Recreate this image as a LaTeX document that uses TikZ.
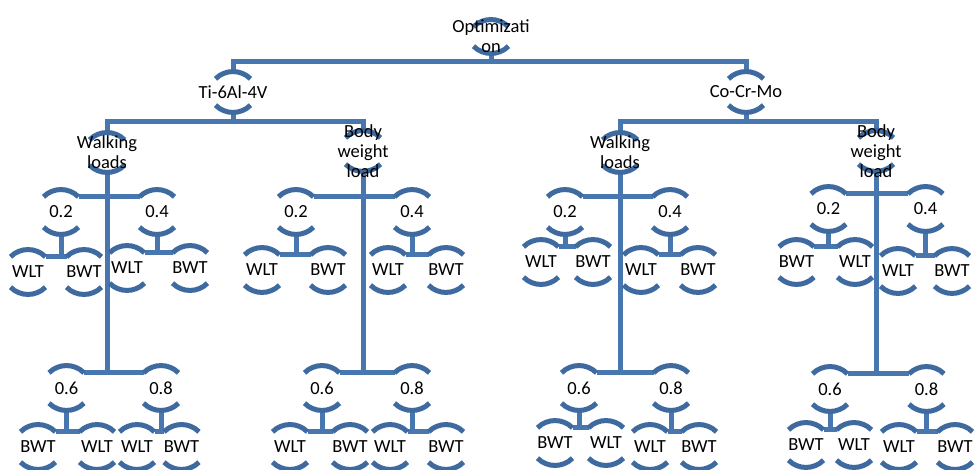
\documentclass[tikz,border=0pt]{standalone}
\usepackage{fontspec}
\setmainfont{Carlito}
\usetikzlibrary{calc}
\definecolor{arcblue}{RGB}{62,106,160}
\definecolor{linkblue}{RGB}{72,119,176}
\pgfdeclarelayer{bg}
\pgfsetlayers{bg,main}
\tikzset{
  arcline/.style={draw=arcblue, line width=5pt},
  link/.style={draw=linkblue, line width=5pt},
  lbl/.style={font=\fontsize{18.5}{20}\selectfont, align=center, inner sep=0pt, text=black},
  hold/.style={circle, inner sep=0pt, minimum size=#1},
}
% \arcnode[half height]{name}{x}{y}{text}: a pair of arcs round a label
\newcommand\arcnode[5][22]{%
  \node[hold=2*#1pt] (#2) at (#3,#4) {};
  \coordinate (#2-tl) at ($(#2.north)+(-17.5,7)$);
  \coordinate (#2-tr) at ($(#2.north)+(17.5,7)$);
  \coordinate (#2-br) at ($(#2.south)+(17.5,-7)$);
  \draw[arcline] (#2-tl) arc[start angle=225, end angle=315, radius=24.75];
  \draw[arcline] (#2-br) arc[start angle=45, end angle=135, radius=24.75];
  \node[lbl] (#2-t) at (#2) {#5};
}
% a value node joined to its two leaves
\newcommand\leafpair[1]{%
  \draw[link] (#1.south) -- (#1.south |- #1a-tr);
  \draw[link] (#1a-tr) -- (#1b-tl);
}
% a load node joined to its four values
\newcommand\valuegroup[1]{%
  \draw[link] (#1.south) -- (#1.south |- #16-tr);
  \draw[link] (#12-tr) -- (#14-tl);
  \draw[link] (#16-tr) -- (#18-tl);
  \leafpair{#12}\leafpair{#14}\leafpair{#16}\leafpair{#18}
}
\begin{document}
\begin{tikzpicture}[x=1pt, y=-1pt]
\useasboundingbox (0,0) rectangle (974,470);

% upper levels
\arcnode[16.5]{opt}{491}{36.5}{Optimizati\\on}
\arcnode[20]{ti}{233}{92}{Ti-6Al-4V}
\arcnode[20]{co}{746}{92}{Co-Cr-Mo}
\arcnode[19.5]{wlA}{107}{152.5}{Walking\\loads}
\arcnode[20]{bwA}{363}{151}{Body\\weight\\load}
\arcnode[19.5]{wlB}{620}{152.5}{Walking\\loads}
\arcnode[20]{bwB}{876}{151}{Body\\weight\\load}

% Ti-6Al-4V, walking loads
\arcnode{wlA2}{61}{212}{0.2}
\arcnode{wlA4}{157}{212}{0.4}
\arcnode{wlA2a}{28}{272}{WLT}
\arcnode{wlA2b}{84}{272}{BWT}
\arcnode{wlA4a}{127}{268}{WLT}
\arcnode{wlA4b}{190}{268}{BWT}
\arcnode{wlA6}{66.5}{388}{0.6}
\arcnode{wlA8}{161}{388}{0.8}
\arcnode{wlA6a}{38}{447}{BWT}
\arcnode{wlA6b}{97}{447}{WLT}
\arcnode{wlA8a}{137}{447}{WLT}
\arcnode{wlA8b}{181.5}{447}{BWT}

% Ti-6Al-4V, body weight load
\arcnode{bwA2}{296}{212}{0.2}
\arcnode{bwA4}{412}{212}{0.4}
\arcnode{bwA2a}{262}{270}{WLT}
\arcnode{bwA2b}{328}{270}{BWT}
\arcnode{bwA4a}{388}{270}{WLT}
\arcnode{bwA4b}{446}{270}{BWT}
\arcnode{bwA6}{322}{388}{0.6}
\arcnode{bwA8}{412}{388}{0.8}
\arcnode{bwA6a}{290}{447}{WLT}
\arcnode{bwA6b}{350}{447}{BWT}
\arcnode{bwA8a}{390}{447}{WLT}
\arcnode{bwA8b}{446}{447}{BWT}

% Co-Cr-Mo, walking loads
\arcnode{wlB2}{565}{212}{0.2}
\arcnode{wlB4}{670}{212}{0.4}
\arcnode{wlB2a}{541}{262}{WLT}
\arcnode{wlB2b}{593}{262}{BWT}
\arcnode{wlB4a}{641}{270}{WLT}
\arcnode{wlB4b}{698}{270}{BWT}
\arcnode{wlB6}{579}{388}{0.6}
\arcnode{wlB8}{671}{388}{0.8}
\arcnode{wlB6a}{555}{443}{BWT}
\arcnode{wlB6b}{606}{443}{WLT}
\arcnode{wlB8a}{650}{447}{WLT}
\arcnode{wlB8b}{699}{447}{BWT}

% Co-Cr-Mo, body weight load
\arcnode{bwB2}{828.5}{209}{0.2}
\arcnode{bwB4}{925.5}{209}{0.4}
\arcnode{bwB2a}{796.5}{262}{BWT}
\arcnode{bwB2b}{855}{262}{WLT}
\arcnode{bwB4a}{898}{271}{WLT}
\arcnode{bwB4b}{952}{271}{BWT}
\arcnode{bwB6}{830}{389}{0.6}
\arcnode{bwB8}{926.5}{389}{0.8}
\arcnode{bwB6a}{806}{445}{BWT}
\arcnode{bwB6b}{854}{445}{WLT}
\arcnode{bwB8a}{899}{447}{WLT}
\arcnode{bwB8b}{955}{447}{BWT}

\begin{pgfonlayer}{bg}
  \coordinate (busO) at (491,62);
  \draw[link] (ti.north) |- (busO) -| (co.north);
  \draw[link] (opt.south) -- (busO);
  \coordinate (busTi) at (233,122);
  \draw[link] (wlA.north) |- (busTi) -| (bwA.north);
  \draw[link] (ti.south) -- (busTi);
  \coordinate (busCo) at (746,122);
  \draw[link] (wlB.north) |- (busCo) -| (bwB.north);
  \draw[link] (co.south) -- (busCo);
  \valuegroup{wlA}
  \valuegroup{bwA}
  \valuegroup{wlB}
  \valuegroup{bwB}
\end{pgfonlayer}
\end{tikzpicture}
\end{document}
